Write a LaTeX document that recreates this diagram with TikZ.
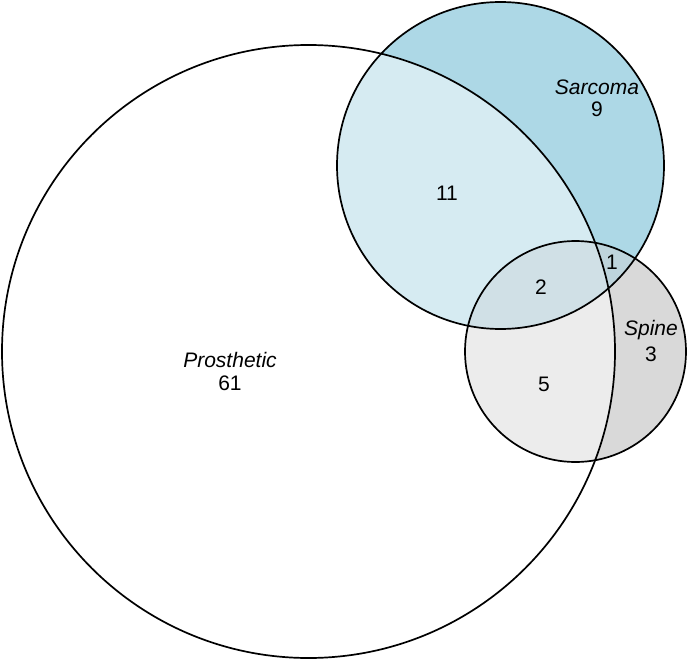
\documentclass[tikz,border=0pt]{standalone}
\usepackage{fontspec}
\setmainfont{Liberation Sans}
\definecolor{sarc}{RGB}{173,216,230}
\definecolor{spin}{RGB}{217,217,217}
\definecolor{sarcspin}{RGB}{190,212,220}
\definecolor{prossarc}{RGB}{214,235,242}
\definecolor{prosspin}{RGB}{236,236,236}
\definecolor{allthree}{RGB}{208,224,230}
\tikzstyle{ring} = [draw=black,line width=1.7pt]
\tikzstyle{every node}=[font=\fontsize{21}{25}\selectfont,inner sep=0pt]
\tikzstyle{setname} = [font=\fontsize{21}{25}\selectfont\itshape]

\begin{document}
\begin{tikzpicture}[x=1pt,y=-1pt]
	\useasboundingbox (0,0) rectangle (689,661);
	\coordinate (P) at (308.5,351.5);
	\coordinate (S) at (500.5,165.5);
	\coordinate (Q) at (575.5,351.5);
	% fills
	\fill[sarc] (S) circle (163.5pt);
	\fill[spin] (Q) circle (110.5pt);
	\begin{scope}
		\clip (S) circle (163.5pt);
		\fill[sarcspin] (Q) circle (110.5pt);
	\end{scope}
	\begin{scope}
		\clip (P) circle (306.5pt);
		\fill[prossarc] (S) circle (163.5pt);
		\fill[prosspin] (Q) circle (110.5pt);
		\clip (S) circle (163.5pt);
		\fill[allthree] (Q) circle (110.5pt);
	\end{scope}
	% outlines
	\draw[ring] (P) circle (306.5pt);
	\draw[ring] (S) circle (163.5pt);
	\draw[ring] (Q) circle (110.5pt);
	% labels
	\node[setname] (pname) at (230,360) {Prosthetic};
	\node (pnum) at (230,383) {61};
	\node[setname] (sname) at (597,87) {Sarcoma};
	\node (snum) at (597,109) {9};
	\node[setname] (qname) at (651,330) {Spine};
	\node (qnum) at (651,354) {3};
	\node (ps) at (447,193) {11};
	\node (psq) at (541,287) {2};
	\node (sq) at (612,262) {1};
	\node (pq) at (544,384) {5};
\end{tikzpicture}
\end{document}
